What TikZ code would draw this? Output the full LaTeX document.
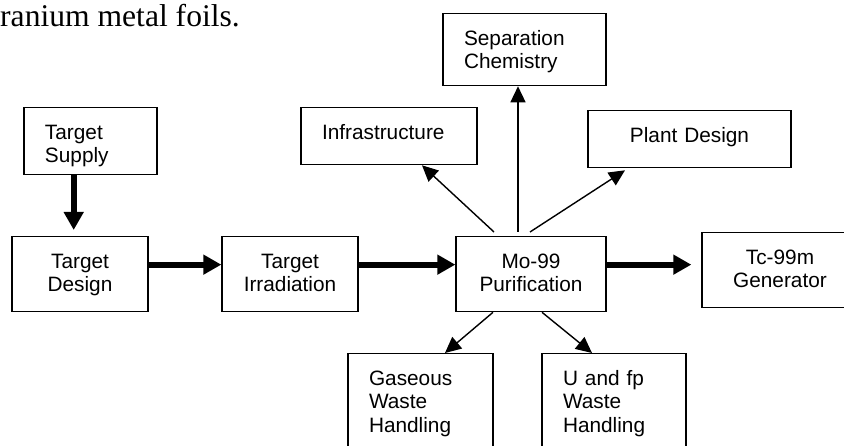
\documentclass[tikz,border=0pt]{standalone}
\usepackage{fontspec}
\setmainfont{Liberation Serif}
\setsansfont{Liberation Sans}
\usetikzlibrary{arrows.meta,positioning}

\begin{document}
\begin{tikzpicture}[x=1pt,y=-1pt,
	box/.style={draw,line width=1.3pt,anchor=north,inner ysep=0pt,
		text height=31.5pt,font=\sffamily\fontsize{20.8}{23.5}\selectfont},
	cbox/.style={box,align=center,inner xsep=0pt},
	lbox/.style={box,align=left,inner xsep=21pt},
	thick arrow/.style={-{Triangle[length=18pt,width=19pt]},line width=6pt},
	thin arrow/.style={-{Triangle[length=16pt,width=15pt]},line width=1.4pt}]

\useasboundingbox (0,0) rectangle (844,446);
\clip (0,0) rectangle (844,446);

\node[anchor=base west,inner sep=0pt,font=\fontsize{31.6}{36}\selectfont] (foils) at (0,27) {ranium metal foils.};

\node[lbox,text width=91pt,text depth=35.5pt]   (supply) at (90.5,107)  {Target\\Supply};
\node[cbox,text width=136pt,text depth=43.5pt]  (design) at (80,236)    {Target\\Design};
\node[cbox,text width=136pt,text depth=43.5pt]  (irrad)  at (290,236)   {Target\\Irradiation};
\node[cbox,text width=150pt,text depth=43.5pt]  (mo)     at (531,236)   {Mo-99\\Purification};
\node[cbox,text width=156pt,text depth=43.5pt]  (tc)     at (780,232)   {Tc-99m\\Generator};

\node[lbox,text width=121pt,text depth=40.5pt]  (sep)    at (524.5,13)  {Separation\\Chemistry};
\node[lbox,text width=134pt,text depth=25.5pt]  (infra)  at (389,107)   {Infrastructure};
\node[cbox,text width=203pt,text depth=25.5pt]  (plant)  at (689.5,110) {Plant Design};

\node[lbox,text width=103pt,text depth=78.5pt]  (gas)    at (420.5,353) {Gaseous\\Waste\\Handling};
\node[lbox,text width=102pt,text depth=78.5pt]  (ufp)    at (614,353)   {U and fp\\Waste\\Handling};

% main line
\draw[thick arrow,shorten >=6pt] ([xshift=-16.8pt]supply.south) -- ([xshift=-6.3pt]design.north);
\foreach \f/\t/\s in {% start node/end node/gap
	design/irrad/0,
	irrad/mo/0,
	mo/tc/10}
	\draw[thick arrow,shorten >=\s pt] ([yshift=9.5pt]\f.east) -- ([yshift=9.5pt]\f.east -| \t.west);

% branches of the purification step
\foreach \dx/\t/\ex/\ey in {-37/infra/33/0, -13/sep/-6.5/0, -1/plant/-64.5/-2}
	\draw[thin arrow] ([xshift=\dx pt,yshift=4pt]mo.north) -- ([xshift=\ex pt,yshift=\ey pt]\t.south);
\foreach \dx/\t/\ex in {-38/gas/24.5, 11/ufp/-22}
	\draw[thin arrow] ([xshift=\dx pt]mo.south) -- ([xshift=\ex pt]\t.north);

\end{tikzpicture}
\end{document}
